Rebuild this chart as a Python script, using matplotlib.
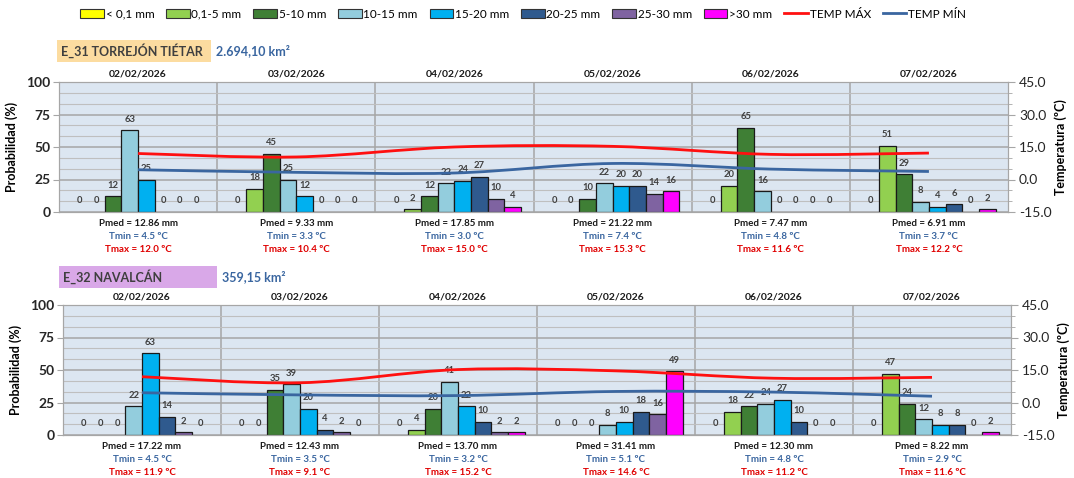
import matplotlib
matplotlib.use('Agg')
import matplotlib.pyplot as plt
from matplotlib.patches import Patch, Rectangle, PathPatch
from matplotlib.lines import Line2D
from matplotlib.path import Path
from matplotlib.ticker import MultipleLocator, FormatStrFormatter
import matplotlib.transforms as mtransforms

plt.rcParams['font.family'] = ['Lato', 'DejaVu Sans']

# --- datos ---
fechas = ['02/02/2026', '03/02/2026', '04/02/2026', '05/02/2026', '06/02/2026', '07/02/2026']
clases = ['< 0,1 mm', '0,1-5 mm', '5-10 mm', '10-15 mm', '15-20 mm', '20-25 mm', '25-30 mm', '>30 mm']
colores = ['#FFFF00', '#92D050', '#3F7F35', '#93CDDD', '#00B0F0', '#2F5A8E', '#7F63A1', '#FF00FF']

# E_31 Torrejón Tiétar
prob_e31 = [
    [0, 0, 12, 63, 25, 0, 0, 0],
    [0, 18, 45, 25, 12, 0, 0, 0],
    [0, 2, 12, 22, 24, 27, 10, 4],
    [0, 0, 10, 22, 20, 20, 14, 16],
    [0, 20, 65, 16, 0, 0, 0, 0],
    [0, 51, 29, 8, 4, 6, 0, 2],
]
pmed_e31 = [12.86, 9.33, 17.85, 21.22, 7.47, 6.91]
tmin_e31 = [4.5, 3.3, 3.0, 7.4, 4.8, 3.7]
tmax_e31 = [12.0, 10.4, 15.0, 15.3, 11.6, 12.2]

# E_32 Navalcán
prob_e32 = [
    [0, 0, 0, 22, 63, 14, 2, 0],
    [0, 0, 35, 39, 20, 4, 2, 0],
    [0, 4, 20, 41, 22, 10, 2, 2],
    [0, 0, 0, 8, 10, 18, 16, 49],
    [0, 18, 22, 24, 27, 10, 0, 0],
    [0, 47, 24, 12, 8, 8, 0, 2],
]
pmed_e32 = [17.22, 12.43, 13.70, 31.41, 12.30, 8.22]
tmin_e32 = [4.5, 3.5, 3.2, 5.1, 4.8, 2.9]
tmax_e32 = [11.9, 9.1, 15.2, 14.6, 11.2, 11.6]

C_TMAX = '#FF1010'
C_TMIN = '#3A66A0'
C_GRID = '#A6A6A6'
C_TXT = '#404040'
ANCHO_DIA = 9.5   # huecos por día (8 clases + margen)


def curva_suave(ax, xs, ys, color):
    # línea suavizada tipo Excel (Catmull-Rom -> Bezier)
    n = len(xs)
    verts = [(xs[0], ys[0])]
    codes = [Path.MOVETO]
    for i in range(n - 1):
        a = max(i - 1, 0)
        b = min(i + 2, n - 1)
        c1 = (xs[i] + (xs[i + 1] - xs[a]) / 6, ys[i] + (ys[i + 1] - ys[a]) / 6)
        c2 = (xs[i + 1] - (xs[b] - xs[i]) / 6, ys[i + 1] - (ys[b] - ys[i]) / 6)
        verts += [c1, c2, (xs[i + 1], ys[i + 1])]
        codes += [Path.CURVE4] * 3
    ax.add_patch(PathPatch(Path(verts, codes), fill=False, edgecolor=color,
                           linewidth=2.0, capstyle='butt', zorder=5))


def panel(ax, prob, pmed, tmin, tmax):
    ax.set_facecolor('#DCE6F1')
    ax.set_xlim(0, 6 * ANCHO_DIA)
    ax.set_ylim(0, 100)
    ax.set_axisbelow(True)
    ax.yaxis.set_major_locator(MultipleLocator(25))
    ax.yaxis.set_minor_locator(MultipleLocator(25 / 3))
    ax.grid(axis='y', which='major', color=C_GRID, lw=1.1)
    ax.grid(axis='y', which='minor', color='#BFBFBF', lw=0.8)
    ax.set_xticks([])
    ax.tick_params(axis='y', which='major', length=4, color=C_GRID,
                   labelsize=10, pad=2)
    ax.tick_params(axis='y', which='minor', length=0)
    for t in ax.get_yticklabels():
        t.set_fontweight('bold')
        t.set_color('#262626')
    for s in ax.spines.values():
        s.set_color(C_GRID)
    ax.set_ylabel('Probabilidad (%)', fontsize=9, fontweight='bold', labelpad=6)
    for d in range(1, 6):
        ax.axvline(d * ANCHO_DIA, color=C_GRID, lw=1.1, zorder=0.5)

    trans = mtransforms.blended_transform_factory(ax.transData, ax.transAxes)
    centros = []
    for d, vals in enumerate(prob):
        x0 = d * ANCHO_DIA + 1.25
        xs = [x0 + k for k in range(len(vals))]
        # las clases con 0 no dibujan barra, solo la etiqueta
        ax.bar(xs, vals, width=1.0, color=colores, edgecolor='#1A1A1A',
               linewidth=[0.9 if v > 0 else 0 for v in vals], zorder=2)
        for x, v in zip(xs, vals):
            ax.text(x, v + 8.5, f'{v}', ha='center', va='center', fontsize=6.8,
                    fontweight='bold', color=C_TXT, zorder=3)
        xc = d * ANCHO_DIA + ANCHO_DIA / 2
        centros.append(xc)
        ax.text(xc, 1.03, fechas[d], transform=trans, ha='center', va='bottom',
                fontsize=7.5, fontweight='bold', color='#1A1A1A')
        ax.text(xc, -0.092, f'Pmed = {pmed[d]:.2f} mm', transform=trans,
                ha='center', va='center', fontsize=7, fontweight='bold',
                color='#1A1A1A')
        ax.text(xc, -0.19, f'Tmin = {tmin[d]:.1f} ºC', transform=trans,
                ha='center', va='center', fontsize=7, fontweight='bold',
                color=C_TMIN)
        ax.text(xc, -0.285, f'Tmax = {tmax[d]:.1f} ºC', transform=trans,
                ha='center', va='center', fontsize=7, fontweight='bold',
                color='#E00000')

    ax2 = ax.twinx()
    ax2.set_ylim(-15, 45)
    ax2.yaxis.set_major_locator(MultipleLocator(15))
    ax2.yaxis.set_minor_locator(MultipleLocator(5))
    ax2.yaxis.set_major_formatter(FormatStrFormatter('%.1f'))
    ax2.tick_params(axis='y', which='major', length=5, color=C_GRID,
                    labelsize=10, labelcolor='#262626', pad=3)
    ax2.tick_params(axis='y', which='minor', length=3, color=C_GRID)
    for s in ax2.spines.values():
        s.set_color(C_GRID)
    ax2.set_ylabel('Temperatura (ºC)', fontsize=9, fontweight='bold', labelpad=2)
    curva_suave(ax2, centros, tmax, C_TMAX)
    curva_suave(ax2, centros, tmin, C_TMIN)
    return ax2


fig = plt.figure(figsize=(10.74, 4.78), dpi=100)
ax_a = fig.add_axes([59 / 1074, 266 / 478, 949 / 1074, 130 / 478])
ax_b = fig.add_axes([63 / 1074, 43 / 478, 948 / 1074, 130 / 478])
panel(ax_a, prob_e31, pmed_e31, tmin_e31, tmax_e31)
panel(ax_b, prob_e32, pmed_e32, tmin_e32, tmax_e32)

# cabeceras de cuenca
for (x0, y0, w, h, fondo, nombre, area) in [
        (57, 40, 154, 22, '#FCDCA0', 'E_31 TORREJÓN TIÉTAR', '2.694,10 km²'),
        (59, 266, 158, 22, '#D9A8E8', 'E_32 NAVALCÁN', '359,15 km²')]:
    fig.add_artist(Rectangle((x0 / 1074, 1 - (y0 + h) / 478), w / 1074, h / 478,
                             transform=fig.transFigure, facecolor=fondo,
                             edgecolor='none'))
    fig.text((x0 + 4) / 1074, 1 - (y0 + h / 2) / 478, nombre, ha='left',
             va='center', fontsize=9, fontweight='bold', color='#3F3F3F')
    fig.text((x0 + w + 5) / 1074, 1 - (y0 + h / 2) / 478, area, ha='left',
             va='center', fontsize=9, fontweight='bold', color=C_TMIN)

# leyenda común
handles = [Patch(facecolor=c, edgecolor='#333333', linewidth=0.8, label=l)
           for c, l in zip(colores, clases)]
handles += [Line2D([], [], color=C_TMAX, lw=2, label='TEMP MÁX'),
            Line2D([], [], color=C_TMIN, lw=2, label='TEMP MÍN')]
fig.legend(handles=handles, loc='center', bbox_to_anchor=(0.487, 1 - 14 / 478),
           ncol=10, frameon=False, fontsize=8.5, handlelength=2.0,
           handleheight=0.8, handletextpad=0.15, columnspacing=1.0)

fig.savefig('out.png', dpi=100)
